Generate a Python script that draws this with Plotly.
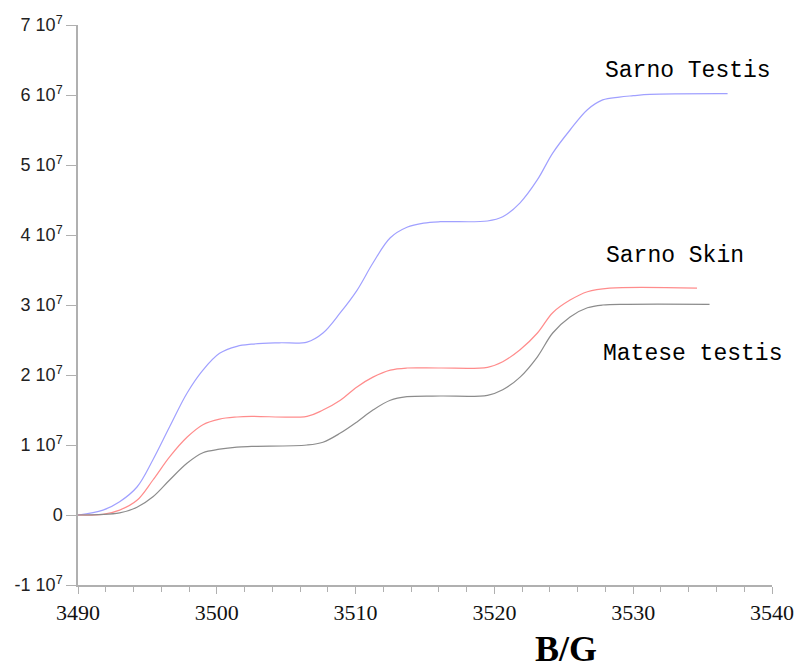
import plotly.graph_objects as go

SCALE = 1e7

# Sarno Testis (blue)
testis_x = [3490, 3491.8, 3493.0, 3494.25, 3495.4, 3496.6, 3497.85, 3499.0, 3500.2, 3501.45,
            3502.5, 3504.5, 3506.5, 3507.65, 3508.9, 3510.1, 3511.25, 3512.5, 3513.7, 3514.9,
            3516.1, 3519.5, 3520.6, 3521.85, 3523.1, 3524.2, 3525.45, 3526.7, 3527.8, 3529.0,
            3530.0, 3531.2, 3536.8]
testis_y = [0, 0.07, 0.19, 0.40, 0.79, 1.26, 1.74, 2.07, 2.31, 2.41,
            2.44, 2.46, 2.47, 2.60, 2.89, 3.21, 3.60, 3.96, 4.11, 4.17,
            4.19, 4.20, 4.26, 4.46, 4.79, 5.17, 5.50, 5.79, 5.93, 5.97,
            5.99, 6.01, 6.02]

# Sarno Skin (red)
skin_x = [3490, 3491.8, 3493.0, 3494.25, 3495.4, 3496.6, 3497.85, 3499.0, 3500.2, 3501.45,
          3502.5, 3506.5, 3507.65, 3508.9, 3510.1, 3511.25, 3512.5, 3513.7, 3516.1, 3519.5,
          3520.6, 3521.85, 3523.1, 3524.2, 3525.45, 3526.7, 3528.3, 3534.6]
skin_y = [0, 0.01, 0.07, 0.21, 0.50, 0.83, 1.11, 1.29, 1.37, 1.40,
          1.41, 1.41, 1.50, 1.64, 1.83, 1.97, 2.07, 2.10, 2.10, 2.11,
          2.19, 2.36, 2.60, 2.89, 3.07, 3.19, 3.24, 3.24]

# Matese testis (gray)
matese_x = [3490, 3493.0, 3494.25, 3495.4, 3496.6, 3497.85, 3499.0, 3500.2, 3501.45, 3502.5,
            3506.5, 3507.65, 3508.9, 3510.1, 3511.25, 3512.5, 3513.7, 3516.1, 3519.5, 3520.6,
            3521.85, 3523.1, 3524.2, 3525.45, 3526.7, 3527.8, 3529.6, 3535.5]
matese_y = [0, 0.03, 0.11, 0.26, 0.50, 0.74, 0.89, 0.94, 0.97, 0.98,
            1.00, 1.04, 1.17, 1.33, 1.50, 1.64, 1.69, 1.70, 1.71, 1.79,
            1.97, 2.26, 2.60, 2.83, 2.96, 3.00, 3.01, 3.01]

y_tick_vals = [-1, 0, 1, 2, 3, 4, 5, 6, 7]
y_tick_text = ["-1 10<sup>7</sup>", "0", "1 10<sup>7</sup>", "2 10<sup>7</sup>", "3 10<sup>7</sup>",
               "4 10<sup>7</sup>", "5 10<sup>7</sup>", "6 10<sup>7</sup>", "7 10<sup>7</sup>"]
x_tick_vals = [3490, 3500, 3510, 3520, 3530, 3540]

labels = ["Sarno Testis", "Sarno Skin", "Matese testis"]
label_x = [3527.8, 3527.9, 3527.7]
label_y = [6.35, 3.7, 2.3]

fig = go.Figure()
series = [(testis_x, testis_y, "#a0a0ff"), (skin_x, skin_y, "#ff8c8c"), (matese_x, matese_y, "#8c8c8c")]
for xs, ys, col in series:
    fig.add_trace(go.Scatter(x=xs, y=[v * SCALE for v in ys], mode="lines",
                             line=dict(color=col, width=1.2, shape="spline", smoothing=1.0),
                             showlegend=False, hoverinfo="skip"))

for t, lx, ly in zip(labels, label_x, label_y):
    fig.add_annotation(x=lx, y=ly * SCALE, text=t, showarrow=False, xanchor="left", yanchor="middle",
                       font=dict(family="Liberation Mono", size=23, color="#000000"))

fig.add_annotation(x=0.703, xref="paper", y=-0.114, yref="paper", text="<b>B/G</b>", showarrow=False,
                   xanchor="center", yanchor="middle",
                   font=dict(family="Liberation Serif", size=36, color="#000000"))

fig.update_layout(
    width=797, height=670,
    margin=dict(l=78, r=25, t=25, b=85),
    paper_bgcolor="white", plot_bgcolor="white",
    xaxis=dict(range=[3490, 3540], tickvals=x_tick_vals, ticks="outside", ticklen=7,
               tickcolor="#b0b0b0", showline=True, linecolor="#b0b0b0", linewidth=1.5,
               showgrid=False, zeroline=False, automargin=False,
               minor=dict(dtick=2, ticks="outside", ticklen=5, tickcolor="#b0b0b0"),
               tickfont=dict(family="Liberation Serif", size=22, color="#111111")),
    yaxis=dict(range=[-1 * SCALE, 7 * SCALE], tickvals=[v * SCALE for v in y_tick_vals],
               ticktext=y_tick_text, ticks="outside", ticklen=10, tickcolor="#b0b0b0",
               showline=True, linecolor="#b0b0b0", linewidth=1.5, showgrid=False, zeroline=False,
               automargin=False,
               tickfont=dict(family="Liberation Sans", size=18, color="#222222")),
)

fig.write_html("out.html")
